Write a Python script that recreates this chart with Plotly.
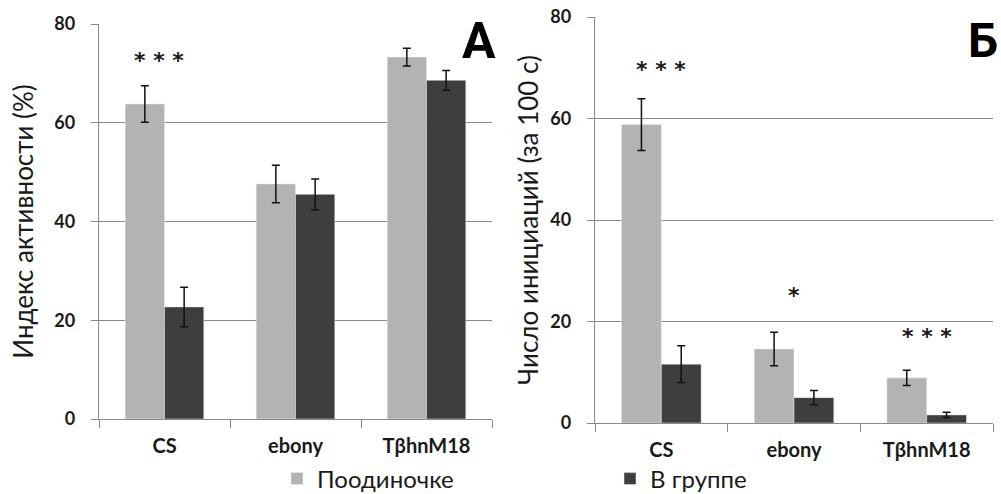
import plotly.graph_objects as go

categories = ["CS", "ebony", "TβhnM18"]
series_names = ["Поодиночке", "В группе"]

a_single = [63.8, 47.6, 73.3]
a_single_err = [3.7, 3.8, 1.8]
a_group = [22.7, 45.5, 68.6]
a_group_err = [4.0, 3.1, 2.0]

b_single = [58.8, 14.6, 8.9]
b_single_err = [5.1, 3.3, 1.5]
b_group = [11.6, 5.0, 1.6]
b_group_err = [3.6, 1.4, 0.5]

a_star_cats = ["CS"]
a_star_y = [73.3]
a_star_text = ["* * *"]
b_star_cats = ["CS", "ebony", "TβhnM18"]
b_star_y = [70.3, 25.8, 17.7]
b_star_text = ["* * *", "*", "* * *"]

y_ticks = [0, 20, 40, 60, 80]

LIGHT = "#b3b3b3"
DARK = "#3e3e3e"
GRID = "#8a8a8a"
TXT = "#1a1a1a"
FONT = "Lato"

W, H = 1001, 494


def px_x(p):
    return p / W


def px_y(p):
    return 1 - p / H


fig = go.Figure()

err_style = dict(type="data", color="#111111", thickness=1.5, width=4)

fig.add_trace(go.Bar(x=categories, y=a_single, name=series_names[0], marker_color=LIGHT,
                     error_y=dict(array=a_single_err, **err_style), xaxis="x", yaxis="y",
                     legendgroup="s", showlegend=True))
fig.add_trace(go.Bar(x=categories, y=a_group, name=series_names[1], marker_color=DARK,
                     error_y=dict(array=a_group_err, **err_style), xaxis="x", yaxis="y",
                     legendgroup="g", showlegend=True))
fig.add_trace(go.Bar(x=categories, y=b_single, name=series_names[0], marker_color=LIGHT,
                     error_y=dict(array=b_single_err, **err_style), xaxis="x2", yaxis="y2",
                     legendgroup="s", showlegend=False))
fig.add_trace(go.Bar(x=categories, y=b_group, name=series_names[1], marker_color=DARK,
                     error_y=dict(array=b_group_err, **err_style), xaxis="x2", yaxis="y2",
                     legendgroup="g", showlegend=False))

xcommon = dict(type="category", showgrid=False, showline=True, linecolor=GRID, linewidth=1.3,
               ticks="outside", tickson="boundaries", ticklen=8, tickcolor=GRID, tickwidth=1.3,
               tickfont=dict(family=FONT, size=20, color=TXT, weight="bold"), zeroline=False,
               ticklabelstandoff=9, automargin=False, fixedrange=True)
ycommon = dict(range=[0, 80], tickvals=y_ticks, showgrid=True, gridcolor=GRID, gridwidth=1.3,
               showline=True, linecolor=GRID, linewidth=1.3, ticks="outside", ticklen=7,
               tickcolor=GRID, tickwidth=1.3, zeroline=False, ticklabelstandoff=12,
               automargin=False, fixedrange=True,
               tickfont=dict(family=FONT, size=18, color=TXT, weight="bold"))

fig.update_layout(
    width=W, height=H,
    margin=dict(l=0, r=0, t=0, b=0, autoexpand=False),
    paper_bgcolor="white", plot_bgcolor="white",
    barmode="group", bargap=0.4, bargroupgap=0,
    xaxis=dict(domain=[px_x(99), px_x(492)], anchor="y", **xcommon),
    yaxis=dict(domain=[px_y(419), px_y(24)], anchor="x",
               title=dict(text="Индекс активности (%)", font=dict(family=FONT, size=26, color=TXT), standoff=13),
               **ycommon),
    xaxis2=dict(domain=[px_x(595), px_x(993)], anchor="y2", **xcommon),
    yaxis2=dict(domain=[px_y(423), px_y(17)], anchor="x2",
                title=dict(text="Число инициаций (за 100 с)", font=dict(family=FONT, size=26, color=TXT), standoff=4),
                **ycommon),
    legend=dict(orientation="h", x=px_x(277), y=px_y(479), yanchor="middle", xanchor="left",
                font=dict(family=FONT, size=24, color=TXT), entrywidth=288, entrywidthmode="pixels",
                bgcolor="rgba(0,0,0,0)"),
    showlegend=True,
)

annotations = []
star_font = dict(family="DejaVu Sans", size=22, color=TXT, weight="bold")
for c, yv, t in zip(a_star_cats, a_star_y, a_star_text):
    annotations.append(dict(x=c, y=yv, xref="x", yref="y", text=t, showarrow=False, xshift=-6, yshift=-3,
                            xanchor="center", yanchor="middle", font=star_font))
for c, yv, t in zip(b_star_cats, b_star_y, b_star_text):
    annotations.append(dict(x=c, y=yv, xref="x2", yref="y2", text=t, showarrow=False, yshift=-3,
                            xanchor="center", yanchor="middle", font=star_font))
annotations.append(dict(x=px_x(479), y=px_y(41), xref="paper", yref="paper", text="А", showarrow=False,
                        xanchor="center", yanchor="middle",
                        font=dict(family="Roboto", size=50, color="#000000", weight="bold")))
annotations.append(dict(x=px_x(983), y=px_y(41), xref="paper", yref="paper", text="Б", showarrow=False,
                        xanchor="center", yanchor="middle",
                        font=dict(family="Roboto", size=48, color="#000000", weight="bold")))
fig.update_layout(annotations=annotations)

fig.write_html("out.html")
